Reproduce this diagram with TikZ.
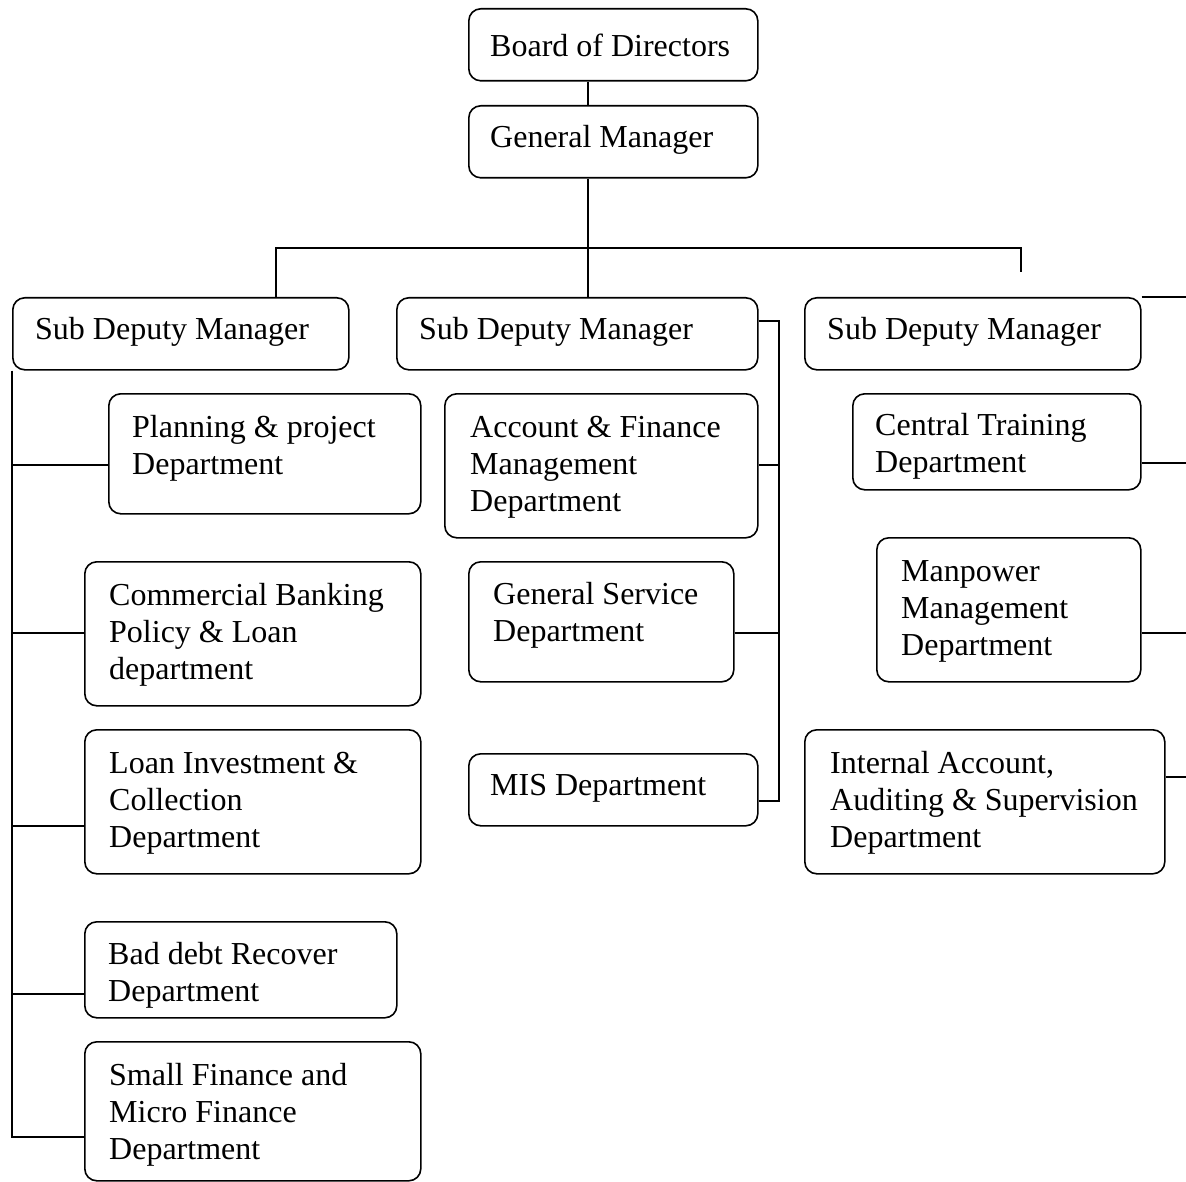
\documentclass[tikz,border=0pt]{standalone}
\usepackage{fontspec}
\setmainfont{Liberation Serif}
\begin{document}
\begin{tikzpicture}[x=1pt,y=-1pt,
  bx/.style={draw, line width=1.6pt, rounded corners=12pt, inner sep=0pt, anchor=north west},
  tx/.style={inner sep=0pt, anchor=west, align=left, yshift=-3pt, font=\fontsize{32}{37}\selectfont},
  ln/.style={line width=1.6pt}]
\useasboundingbox (0,0) rectangle (1186,1182);
% boxes
\node[bx, minimum width=289, minimum height=72]  (bod)  at (468,8) {};
\node[bx, minimum width=289, minimum height=72]  (gm)   at (468,105) {};
\node[bx, minimum width=336, minimum height=72]  (sdm1) at (12,297) {};
\node[bx, minimum width=361, minimum height=72]  (sdm2) at (396,297) {};
\node[bx, minimum width=336, minimum height=72]  (sdm3) at (804,297) {};
\node[bx, minimum width=312, minimum height=120] (plan) at (108,393) {};
\node[bx, minimum width=336, minimum height=144] (comm) at (84,561) {};
\node[bx, minimum width=336, minimum height=144] (loan) at (84,729) {};
\node[bx, minimum width=312, minimum height=96]  (bad)  at (84,921) {};
\node[bx, minimum width=336, minimum height=139] (sf)   at (84,1041) {};
\node[bx, minimum width=313, minimum height=144] (acc)  at (444,393) {};
\node[bx, minimum width=265, minimum height=120] (gs)   at (468,561) {};
\node[bx, minimum width=289, minimum height=72]  (mis)  at (468,753) {};
\node[bx, minimum width=288, minimum height=96]  (ctd)  at (852,393) {};
\node[bx, minimum width=264, minimum height=144] (man)  at (876,537) {};
\node[bx, minimum width=360, minimum height=144] (int)  at (804,729) {};
% texts
\node[tx] (bod-t)  at (490,42)  {Board of Directors};
\node[tx] (gm-t)   at (490,137) {General Manager};
\node[tx] (sdm1-t) at (35,329)  {Sub Deputy Manager};
\node[tx] (sdm2-t) at (419,329) {Sub Deputy Manager};
\node[tx] (sdm3-t) at (827,329) {Sub Deputy Manager};
\node[tx] (plan-t) at (132,445) {Planning \& project\\Department};
\node[tx] (comm-t) at (109,632) {Commercial Banking\\Policy \& Loan\\department};
\node[tx] (loan-t) at (109,800) {Loan Investment \&\\Collection\\Department};
\node[tx] (bad-t)  at (108,972) {Bad debt Recover\\Department};
\node[tx] (sf-t)   at (109,1112) {Small Finance and\\Micro Finance\\Department};
\node[tx] (acc-t)  at (470,464) {Account \& Finance\\Management\\Department};
\node[tx] (gs-t)   at (493,612) {General Service\\Department};
\node[tx] (mis-t)  at (490,785) {MIS Department};
\node[tx] (ctd-t)  at (875,443) {Central Training\\Department};
\node[tx] (man-t)  at (901,608) {Manpower\\Management\\Department};
\node[tx] (int-t)  at (830,800) {Internal Account,\\Auditing \& Supervision\\Department};
% helper coordinates
\coordinate (spine) at (588,248);
\coordinate (busL) at (276,248);
\coordinate (busR) at (1021,248);
\coordinate (busRend) at (1021,272);
\coordinate (edge) at (1186,0);
\coordinate (lbot) at (12,1137);
\coordinate (mtop) at (779,321);
\coordinate (mbot) at (779,801);
% top connectors
\draw[ln] (bod.south -| spine) -- (gm.north -| spine);
\draw[ln] (gm.south -| spine) -- (spine);
\draw[ln] (busL |- sdm1.north) -- (busL) -- (busR) -- (busRend);
\draw[ln] (spine) -- (sdm2.north -| spine);
% left column
\draw[ln] (sdm1.south west) -- (lbot) -- (lbot -| sf.west);
\draw[ln] ([yshift=-11pt]plan.west) -- ([yshift=-11pt]plan.west -| lbot);
\draw[ln] ([yshift=1pt]comm.west) -- ([yshift=1pt]comm.west -| lbot);
\draw[ln] ([yshift=-24pt]loan.west) -- ([yshift=-24pt]loan.west -| lbot);
\draw[ln] ([yshift=-24pt]bad.west) -- ([yshift=-24pt]bad.west -| lbot);
% middle column
\draw[ln] (mtop -| sdm2.east) -- (mtop) -- (mbot) -- (mbot -| mis.east);
\draw[ln] ([yshift=1pt]acc.east) -- ([yshift=1pt]acc.east -| mtop);
\draw[ln] ([yshift=-11pt]gs.east) -- ([yshift=-11pt]gs.east -| mtop);
% right column
\draw[ln] (sdm3.north east) -- (sdm3.north east -| edge);
\draw[ln] ([yshift=-21pt]ctd.east) -- ([yshift=-21pt]ctd.east -| edge);
\draw[ln] ([yshift=-23pt]man.east) -- ([yshift=-23pt]man.east -| edge);
\draw[ln] ([yshift=25pt]int.east) -- ([yshift=25pt]int.east -| edge);
\end{tikzpicture}
\end{document}
